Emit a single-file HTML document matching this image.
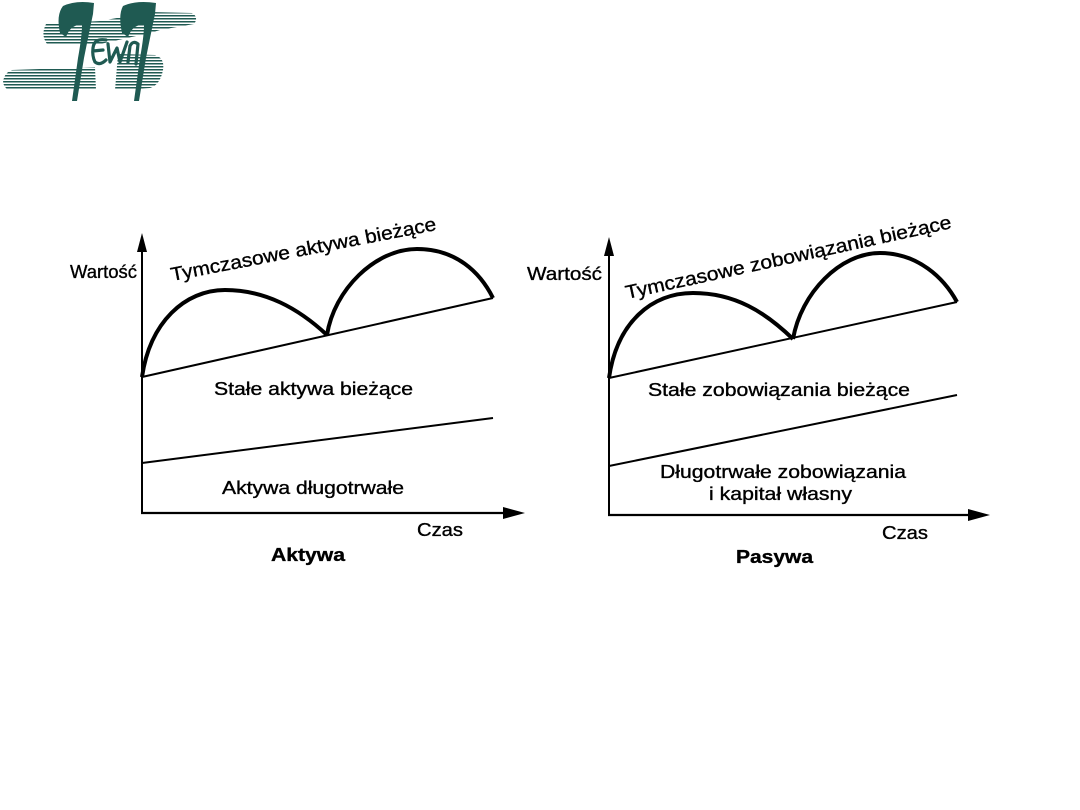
<!DOCTYPE html>
<html>
<head>
<meta charset="utf-8">
<style>
html,body{margin:0;padding:0;background:#fff;}
body{width:1080px;height:810px;overflow:hidden;position:relative;}
svg{position:absolute;left:0;top:0;}
text{font-family:"Liberation Sans",Arial,sans-serif;fill:#000;stroke:#000;stroke-width:0.35;}
</style>
</head>
<body>
<svg width="1080" height="810" viewBox="0 0 1080 810" xmlns="http://www.w3.org/2000/svg">
  <defs>
    <pattern id="stripes" width="4" height="3" patternUnits="userSpaceOnUse">
      <rect x="0" y="0" width="4" height="1.5" fill="#1f5a52"/>
    </pattern>
  </defs>

  <!-- Logo -->
  <g>
    <path d="M46,24 L100,21 L150,12 L192,13 Q199,17 194,24 L160,30 L150,33 L100,44 L48,45 Q40,36 46,24 Z" fill="url(#stripes)"/>
    <path d="M12,70 L95,67 L96,90 L8,90 Q1,84 4,78 Q6,72 12,70 Z" fill="url(#stripes)"/>
    <path d="M118,54 L155,55 Q165,58 163,70 Q160,85 150,88 L115,90 Z" fill="url(#stripes)"/>
    <path d="M63,6 Q76,0 94,3 L93,14 Q88,38 84,58 L77,101 L72,101 L78,58 Q82,36 82,25 Q71,24 66,37 L60,33 Q56,15 63,6 Z" fill="#1f5a52"/>
    <path d="M123,6 Q136,0 156,3 L155,14 Q150,38 146,58 L139,101 L134,101 L140,58 Q144,36 144,25 Q133,24 128,37 L122,33 Q118,15 123,6 Z" fill="#1f5a52"/>
    <path d="M106,40 Q94,38 93,48 Q92,56 95,62 Q100,66 106,60 M93,51 L103,50" stroke="#1f5a52" stroke-width="3.2" fill="none" stroke-linecap="round"/>
    <path d="M108,44 L110,62 L117,48 L120,62 L127,42" stroke="#1f5a52" stroke-width="3.2" fill="none" stroke-linecap="round" stroke-linejoin="round"/>
    <path d="M128,62 L130,46 Q133,40 138,44 L136,64" stroke="#1f5a52" stroke-width="3.2" fill="none" stroke-linecap="round" stroke-linejoin="round"/>
  </g>

  <!-- LEFT CHART -->
  <g stroke="#000" fill="none">
    <line x1="142" y1="245" x2="142" y2="513" stroke-width="2"/>
    <line x1="141" y1="513" x2="510" y2="513" stroke-width="2.2"/>
    <line x1="142" y1="377" x2="493" y2="298" stroke-width="2"/>
    <line x1="142" y1="463" x2="493" y2="418" stroke-width="2"/>
    <path d="M142,377 C150,322 185,290 225,290 C265,290 298,308 327,335" stroke-width="4"/>
    <path d="M327,335 C334,290 375,249 417,249 C456,249 480,272 493,298" stroke-width="4"/>
  </g>
  <polygon points="137,252 142,233 147,252" fill="#000"/>
  <polygon points="503,507 525,513 503,519" fill="#000"/>

  <text x="70" y="278" font-size="18" textLength="67" lengthAdjust="spacingAndGlyphs">Wartość</text>
  <text x="172" y="281" font-size="19" textLength="270" lengthAdjust="spacingAndGlyphs" transform="rotate(-10.9 172 281)">Tymczasowe aktywa bieżące</text>
  <text x="214" y="395" font-size="18" textLength="199" lengthAdjust="spacingAndGlyphs">Stałe aktywa bieżące</text>
  <text x="222" y="494" font-size="18" textLength="182" lengthAdjust="spacingAndGlyphs">Aktywa długotrwałe</text>
  <text x="417" y="536" font-size="18" textLength="46" lengthAdjust="spacingAndGlyphs">Czas</text>
  <text x="271" y="561" font-size="18" font-weight="bold" textLength="74" lengthAdjust="spacingAndGlyphs">Aktywa</text>

  <!-- RIGHT CHART -->
  <g stroke="#000" fill="none">
    <line x1="609" y1="250" x2="609" y2="516" stroke-width="2"/>
    <line x1="608" y1="515" x2="975" y2="515" stroke-width="2.2"/>
    <line x1="609" y1="378" x2="957" y2="302" stroke-width="2"/>
    <line x1="609" y1="466" x2="957" y2="395" stroke-width="2"/>
    <path d="M609,378 C617,322 652,293 693,293 C735,293 765,312 793,339" stroke-width="4"/>
    <path d="M793,339 C801,293 840,253 880,253 C918,253 944,278 957,302" stroke-width="4"/>
  </g>
  <polygon points="604,256 609,237 614,256" fill="#000"/>
  <polygon points="968,509 990,515 968,521" fill="#000"/>

  <text x="527" y="280" font-size="18" textLength="75" lengthAdjust="spacingAndGlyphs">Wartość</text>
  <text x="627" y="299" font-size="19" textLength="333" lengthAdjust="spacingAndGlyphs" transform="rotate(-12.3 627 299)">Tymczasowe zobowiązania bieżące</text>
  <text x="648" y="396" font-size="18" textLength="262" lengthAdjust="spacingAndGlyphs">Stałe zobowiązania bieżące</text>
  <text x="660" y="478" font-size="18" textLength="246" lengthAdjust="spacingAndGlyphs">Długotrwałe zobowiązania</text>
  <text x="709" y="500" font-size="18" textLength="143" lengthAdjust="spacingAndGlyphs">i kapitał własny</text>
  <text x="882" y="539" font-size="18" textLength="46" lengthAdjust="spacingAndGlyphs">Czas</text>
  <text x="736" y="563" font-size="18" font-weight="bold" textLength="77" lengthAdjust="spacingAndGlyphs">Pasywa</text>
</svg>
</body>
</html>
